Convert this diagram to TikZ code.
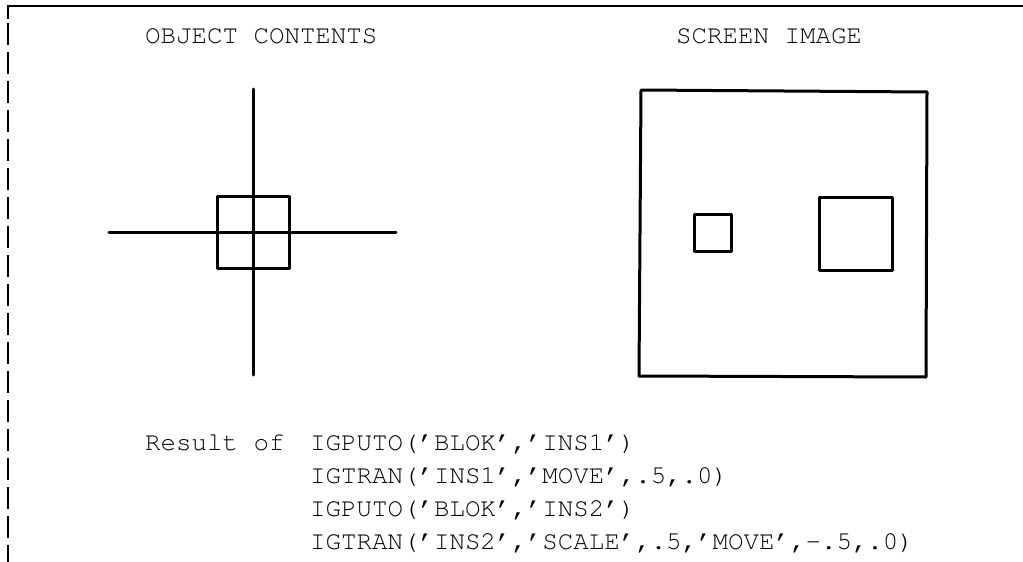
\documentclass[tikz,border=0pt]{standalone}
\usepackage[T1]{fontenc}
\usepackage{courier}
\begin{document}
\begin{tikzpicture}[x=1pt,y=-1pt,
  shp/.style={line width=3pt, line join=round, line cap=round},
  frame/.style={line width=2pt},
  lbl/.style={font=\fontsize{25.8}{33}\ttfamily\selectfont, inner sep=0pt, anchor=base west}]
\useasboundingbox (0,0) rectangle (1023,562);
% frame
\draw[frame] (1023,6) -- (8,6) -- (8,19);
\draw[frame, dash pattern=on 22pt off 7pt] (8,23) -- (8,562);
% titles
\node[lbl] (t1) at (145,43) {OBJECT CONTENTS};
\node[lbl] (t2) at (676,43) {SCREEN IMAGE};
% object contents
\coordinate (vt) at (253,89);
\coordinate (vb) at (253,375);
\coordinate (hl) at (109,232);
\coordinate (hr) at (396,232);
\draw[shp] (vt) -- (vb);
\draw[shp] (hl) -- (hr);
\draw[shp] (217,196) rectangle (289,268);
% screen image
\draw[shp] (641,90) -- (927,92) -- (926,377) -- (639,376) -- cycle;
\draw[shp] (694,214) rectangle (731,251);
\draw[shp] (819,197) rectangle (892,270);
% caption
\node[lbl] (res) at (145,450) {Result of};
\node[lbl] (c1) at (310,450) {IGPUTO('BLOK','INS1')};
\node[lbl] (c2) at (310,483) {IGTRAN('INS1','MOVE',.5,.0)};
\node[lbl] (c3) at (310,516) {IGPUTO('BLOK','INS2')};
\node[lbl] (c4) at (310,549) {IGTRAN('INS2','SCALE',.5,'MOVE',-.5,.0)};
\end{tikzpicture}
\end{document}
